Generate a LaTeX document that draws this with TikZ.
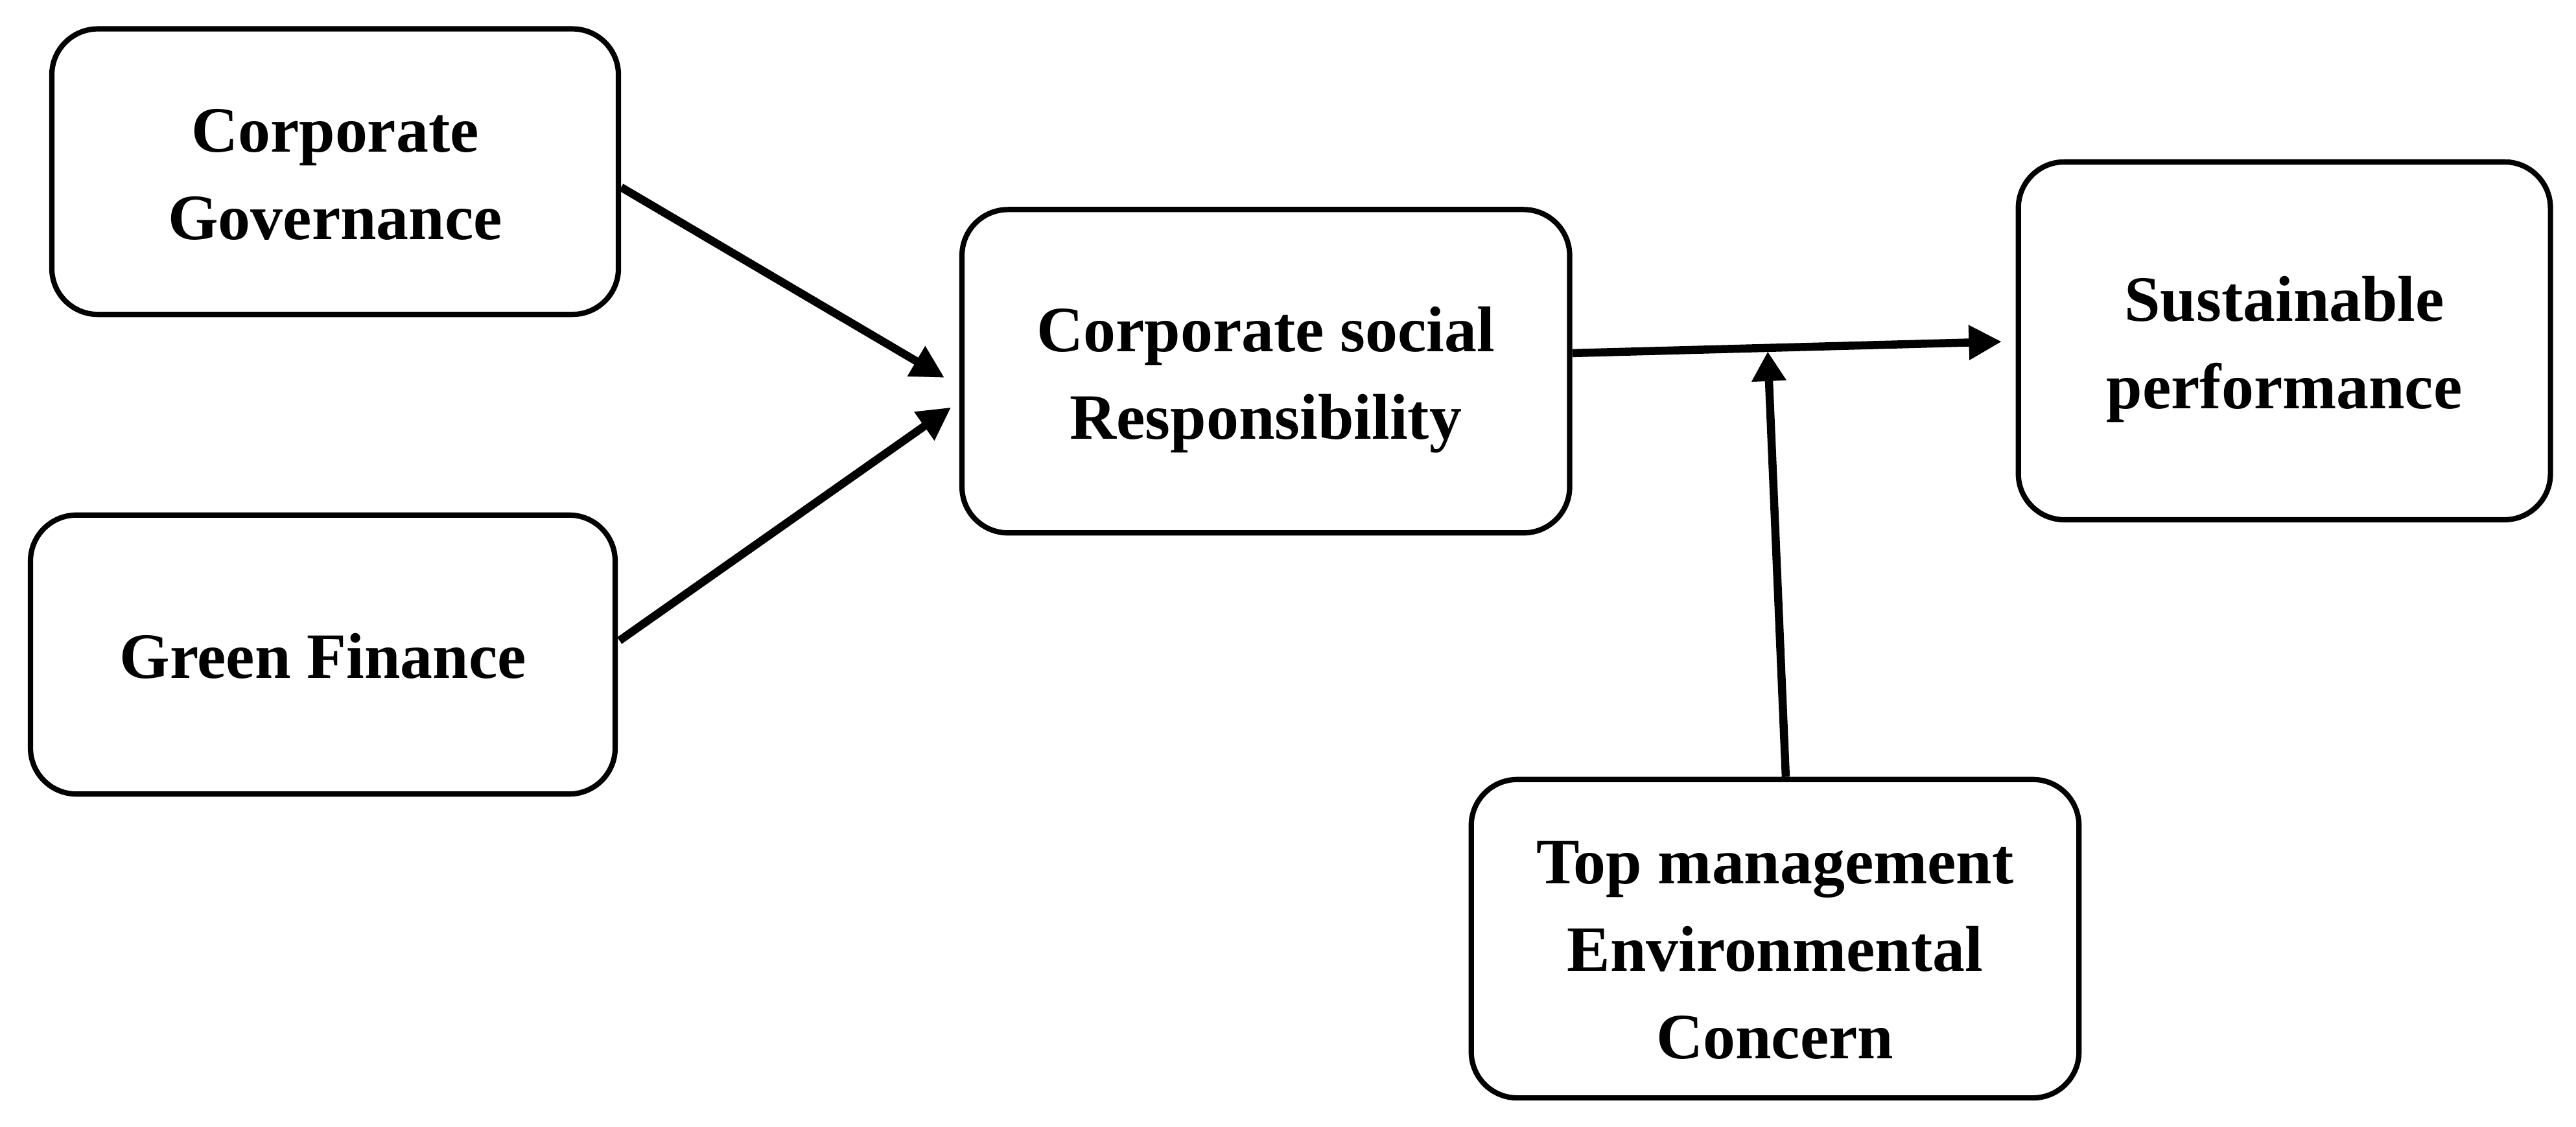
\documentclass[tikz,border=0pt]{standalone}
\usepackage{fontspec}
\setmainfont{Liberation Serif}
\usetikzlibrary{arrows.meta,calc}
\newcommand\btext[2]{\raisebox{-#1}[\height][\depth]{\begin{tabular}{@{}c@{}}#2\end{tabular}}}
\tikzset{
  box/.style={draw, line width=2.3pt, rounded corners=0.7cm, align=center,
    inner sep=0pt, font=\bfseries\fontsize{28}{37.9}\selectfont},
  arr/.style={line width=3.5pt, -{Triangle[length=0.5cm,width=0.5cm]}},
  varr/.style={line width=3.5pt, -{Triangle[length=0.45cm,width=0.5cm]}}
}
\begin{document}
\begin{tikzpicture}[x=0.025cm, y=-0.025cm]
\useasboundingbox (0,0) rectangle (1568,686);
\node[box, minimum width=8.62cm, minimum height=4.345cm] (cg) at (204,104.5) {\btext{0.1cm}{Corporate\\Governance}};
\node[box, minimum width=8.895cm, minimum height=4.245cm] (gf) at (196.5,398.5) {\btext{0.09cm}{Green Finance}};
\node[box, minimum width=9.245cm, minimum height=4.92cm] (csr) at (770.5,226) {\btext{0.105cm}{Corporate social\\Responsibility}};
\node[box, minimum width=8.095cm, minimum height=5.445cm] (sp) at (1390.5,207.5) {\btext{0.095cm}{Sustainable\\performance}};
\node[box, minimum width=9.245cm, minimum height=4.845cm] (tm) at (1080.5,571.5) {\btext{0.225cm}{Top management\\Environmental\\Concern}};
\coordinate (m) at (1076,214);
\draw[arr] ($(cg.east)+(0,9.5)$) -- ($(csr.west)+(-9,4)$);
\draw[arr] ($(gf.east)+(1,-8.5)$) -- ($(csr.west)+(-5,22)$);
\draw[arr] ($(csr.east)+(0,-11)$) -- ($(sp.west)+(-8.5,0.5)$);
\draw[varr] ($(tm.north)+(6.5,0)$) -- (m);
\end{tikzpicture}
\end{document}
